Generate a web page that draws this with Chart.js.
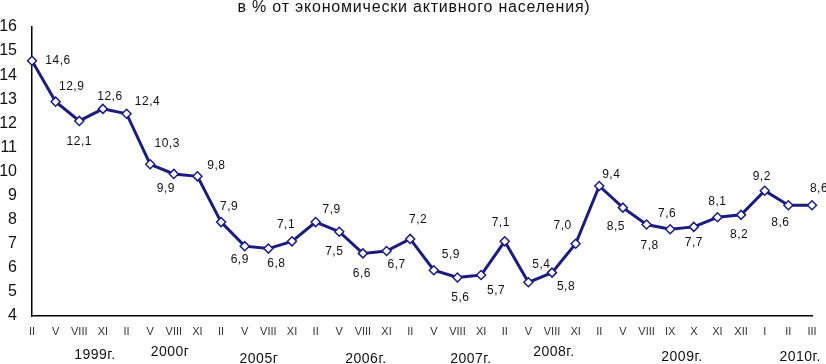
<!DOCTYPE html>
<html>
<head>
<meta charset="utf-8">
<script src="https://cdn.jsdelivr.net/npm/chart.js@4/dist/chart.umd.min.js"></script>
<style>
  html, body { margin: 0; padding: 0; background: #fff; }
  #wrap { width: 826px; height: 364px; position: relative; }
</style>
</head>
<body>
<div id="wrap"><canvas id="chart"></canvas></div>
<script>
// Unemployment level, % of economically active population
const monthLabels = ['II', 'V', 'VIII', 'XI', 'II', 'V', 'VIII', 'XI', 'II', 'V', 'VIII', 'XI',
  'II', 'V', 'VIII', 'XI', 'II', 'V', 'VIII', 'XI', 'II', 'V', 'VIII', 'XI',
  'II', 'V', 'VIII', 'IX', 'X', 'XI', 'XII', 'I', 'II', 'III'];
const rates = [14.6, 12.9, 12.1, 12.6, 12.4, 10.3, 9.9, 9.8, 7.9, 6.9, 6.8, 7.1,
  7.9, 7.5, 6.6, 6.7, 7.2, 5.9, 5.6, 5.7, 7.1, 5.4, 5.8, 7.0,
  9.4, 8.5, 7.8, 7.6, 7.7, 8.1, 8.2, 9.2, 8.6, 8.6];
const yearLabels = ['1999г.', '2000г', '2005г', '2006г.', '2007г.', '2008г.', '2009г.', '2010г.'];
const yTicks = [4, 5, 6, 7, 8, 9, 10, 11, 12, 13, 14, 15, 16];
const titleText = 'в % от экономически активного населения)';

const navy = '#1c1c7c';
const font = '"Liberation Sans", Arial, sans-serif';

// where each value label sits relative to its point (px)
const labelOffsets = [
  [26, 0], [16, -15], [0, 21], [7, -12], [21, -12], [17, -21], [-8, 15], [19, -11],
  [8, -15], [-5, 14], [8, 15], [-6, -17], [16, -12], [-5, 20], [-1, 20], [10, 14],
  [8, -19], [17, -16], [3, 20], [15, 16], [-4, -19], [13, -18], [14, 14], [-13, -18],
  [12, -11], [-7, 19], [3, 21], [-3, -16], [0, 16], [0, -16], [-2, 20], [-3, -14],
  [-8, 17], [7, -17]
];
// year captions: anchor in category units and baseline-middle y
const yearAnchors = [2.66, 5.84, 9.6, 14.13, 18.57, 22.08, 27.5, 32.5];
const yearY = [355, 352, 359, 359, 359, 352, 357, 357];

const fmt = v => v.toFixed(1).replace('.', ',');

const extras = {
  id: 'extras',
  afterDatasetsDraw(chart) {
    const ctx = chart.ctx;
    const meta = chart.getDatasetMeta(0);
    ctx.save();
    ctx.fillStyle = '#111';
    ctx.font = '12px ' + font;
    ctx.textAlign = 'center';
    ctx.textBaseline = 'middle';
    ctx.letterSpacing = '0.5px';
    meta.data.forEach((pt, i) => {
      const o = labelOffsets[i];
      ctx.fillText(fmt(rates[i]), pt.x + o[0], pt.y + o[1]);
    });

    const xs = chart.scales.x;
    const step = xs.getPixelForValue(1) - xs.getPixelForValue(0);
    const x0 = xs.getPixelForValue(0);
    ctx.font = '14px ' + font;
    yearLabels.forEach((t, i) => {
      ctx.fillText(t, x0 + yearAnchors[i] * step, yearY[i]);
    });

    ctx.font = '16px ' + font;
    ctx.letterSpacing = '0.8px';
    ctx.fillText(titleText, 414, 8);
    ctx.restore();
  }
};

new Chart(document.getElementById('chart'), {
  type: 'line',
  data: {
    labels: monthLabels,
    datasets: [{
      data: rates,
      borderColor: navy,
      borderWidth: 3,
      pointStyle: 'rectRot',
      pointRadius: 4.5,
      pointBorderWidth: 1.5,
      pointBackgroundColor: '#fff',
      pointBorderColor: navy,
      tension: 0
    }]
  },
  options: {
    responsive: true,
    maintainAspectRatio: false,
    animation: false,
    layout: { padding: { top: 27, right: 14, left: 0, bottom: 0 } },
    plugins: {
      legend: { display: false },
      tooltip: { enabled: false },
      title: { display: false }
    },
    scales: {
      x: {
        offset: false,
        grid: { display: false, drawTicks: true, tickLength: 5, color: '#000' },
        border: { color: '#000', width: 1.5 },
        ticks: {
          color: '#333',
          font: { size: 11, family: font },
          maxRotation: 0, autoSkip: false, padding: 4
        },
        afterFit: s => { s.height = 48; }
      },
      y: {
        min: 4, max: 16,
        afterBuildTicks: s => { s.ticks = yTicks.map(v => ({ value: v })); },
        grid: { display: false, drawTicks: true, tickLength: 7, color: '#000' },
        border: { color: '#000', width: 1.5 },
        ticks: {
          color: '#111',
          font: { size: 16, family: font },
          padding: 8
        },
        afterFit: s => { s.width = 32; }
      }
    }
  },
  plugins: [extras]
});
</script>
</body>
</html>
